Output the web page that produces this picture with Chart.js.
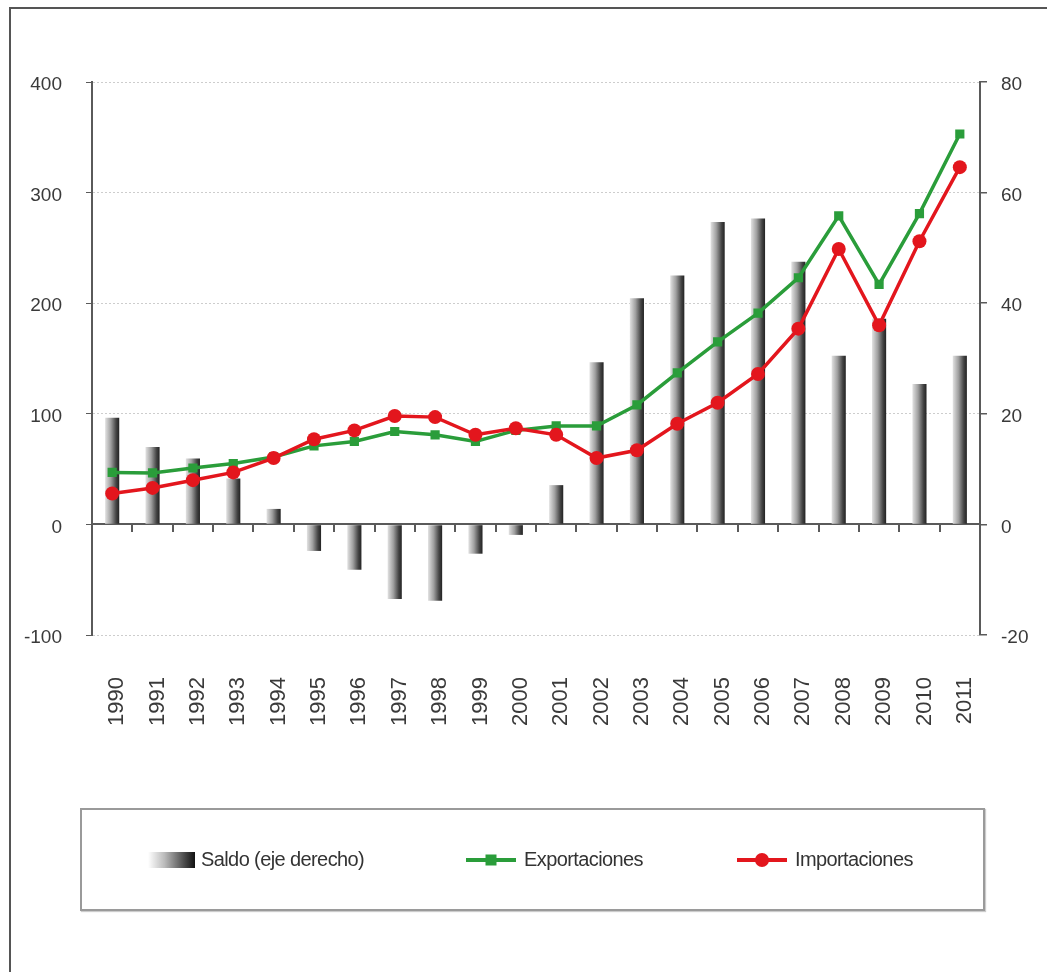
<!DOCTYPE html>
<html>
<head>
<meta charset="utf-8">
<script src="https://cdn.jsdelivr.net/npm/chart.js@4.4.1/dist/chart.umd.min.js"></script>
<style>
  html, body { margin: 0; padding: 0; background: #fff; }
  body { width: 1047px; height: 972px; position: relative; overflow: hidden; font-family: "Liberation Sans", Arial, sans-serif; }
  #frame { position: absolute; left: 9px; top: 7px; width: 1036px; height: 970px; border-left: 2px solid #555; border-top: 2px solid #555; border-right: 1px solid #ddd; }
  #wrap { position: absolute; left: 0; top: 0; width: 1047px; height: 972px; }
  #legend { position: absolute; left: 80px; top: 808px; width: 901px; height: 99px; border: 2px solid #9a9a9a; background: #fff; box-shadow: 1px 1px 1px #ccc; }
  .item { position: absolute; top: 0; height: 99px; display: flex; align-items: center; font-size: 20px; color: #333; letter-spacing: -0.6px; }
  .sw-bar { width: 47px; height: 16px; background: linear-gradient(to right, rgba(255,255,255,1) 0%, #bbb 35%, #444 80%, #111 100%); margin-right: 6px; }
  .sw-line { position: relative; width: 50px; height: 20px; margin-right: 8px; }
  .sw-line .ln { position: absolute; left: 0; right: 0; top: 8px; height: 4px; }
  .sw-line .mk { position: absolute; left: 50%; top: 50%; transform: translate(-50%, -50%); }
</style>
</head>
<body>
<div id="frame"></div>
<div id="wrap"><canvas id="c" width="1047" height="972"></canvas></div>
<div id="legend">
  <div class="item" style="left:66px;"><div class="sw-bar"></div><span>Saldo (eje derecho)</span></div>
  <div class="item" style="left:384px;"><div class="sw-line"><div class="ln" style="background:#2a9d3a"></div><div class="mk" style="width:11px;height:11px;background:#2a9d3a"></div></div><span>Exportaciones</span></div>
  <div class="item" style="left:655px;"><div class="sw-line"><div class="ln" style="background:#e3161d"></div><div class="mk" style="width:14px;height:14px;border-radius:50%;background:#e3161d"></div></div><span>Importaciones</span></div>
</div>
<script>
const years = ['1990','1991','1992','1993','1994','1995','1996','1997','1998','1999','2000','2001','2002','2003','2004','2005','2006','2007','2008','2009','2010','2011'];
const exportaciones = [47, 46.5, 51, 55, 61, 71, 75, 84, 81, 75, 85, 89, 89, 108, 137, 165, 191, 223, 279, 217, 281, 353];
const importaciones = [28, 33, 40, 47, 60, 77, 85, 98, 97, 81, 87, 81, 60, 67, 91, 110, 136, 177, 249, 180, 256, 323];
const saldo = [19.3, 14, 11.9, 8.3, 2.8, -4.8, -8.2, -13.5, -13.8, -5.3, -1.9, 7.1, 29.3, 40.9, 45, 54.7, 55.3, 47.5, 30.5, 37.2, 25.4, 30.5];
const leftTicks = [-100, 0, 100, 200, 300, 400];
const rightTicks = [-20, 0, 20, 40, 60, 80];

const GREEN = '#2a9d3a';
const RED = '#e3161d';
const AXIS = '#5a5a5a';
const TXT = '#3a3a3a';
const BAR_PCT = 0.35;

function barFill(c) {
  const chart = c.chart;
  const xs = chart.scales && chart.scales.x;
  if (!xs || !chart.chartArea || c.type !== 'data') return '#888';
  const cx = xs.getPixelForValue(c.dataIndex);
  const w = (xs.width / years.length) * BAR_PCT;
  const g = chart.ctx.createLinearGradient(cx - w / 2, 0, cx + w / 2, 0);
  g.addColorStop(0, '#e2e2e2');
  g.addColorStop(0.4, '#a0a0a0');
  g.addColorStop(0.78, '#444444');
  g.addColorStop(1, '#222222');
  return g;
}

new Chart(document.getElementById('c'), {
  data: {
    labels: years,
    datasets: [
      {
        type: 'line', label: 'Importaciones', data: importaciones, yAxisID: 'y', order: 1,
        borderColor: RED, backgroundColor: RED, borderWidth: 3.5,
        pointStyle: 'circle', pointRadius: 7, pointBorderWidth: 0, tension: 0
      },
      {
        type: 'line', label: 'Exportaciones', data: exportaciones, yAxisID: 'y', order: 2,
        borderColor: GREEN, backgroundColor: GREEN, borderWidth: 3.5,
        pointStyle: 'rect', pointRadius: 6.5, pointBorderWidth: 0, tension: 0
      },
      {
        type: 'bar', label: 'Saldo (eje derecho)', data: saldo, yAxisID: 'y2', order: 3,
        backgroundColor: barFill, borderWidth: 0,
        barPercentage: BAR_PCT, categoryPercentage: 1
      }
    ]
  },
  options: {
    responsive: false,
    animation: false,
    events: [],
    layout: { padding: { top: 82, left: 0, right: 0, bottom: 0 } },
    plugins: { legend: { display: false }, tooltip: { enabled: false } },
    scales: {
      x: {
        type: 'category', position: 'bottom', offset: true,
        afterFit: (s) => { s.height = 972 - 635; },
        grid: { display: false, drawTicks: false },
        border: { display: false },
        ticks: {
          minRotation: 90, maxRotation: 90, autoSkip: false, padding: 42, labelOffset: 5,
          color: TXT, font: { family: '"Liberation Sans", Arial, sans-serif', size: 22 }
        }
      },
      x0: {
        type: 'category', position: { y: 0 }, offset: true,
        grid: { drawOnChartArea: false, drawTicks: true, tickLength: 7, color: AXIS, lineWidth: 2, offset: true },
        border: { display: true, color: AXIS, width: 2 },
        ticks: { display: false }
      },
      y: {
        position: 'left', min: -100, max: 400,
        afterFit: (s) => { s.width = 92; },
        afterBuildTicks: (s) => { s.ticks = leftTicks.map(v => ({ value: v })); },
        grid: {
          color: (c) => c.tick && c.tick.value === 0 ? 'rgba(0,0,0,0)' : '#cdcdcd',
          tickColor: AXIS, tickLength: 6, lineWidth: 1
        },
        border: { display: true, color: AXIS, width: 2, dash: [2, 2] },
        ticks: { padding: 24, labelOffset: 3, color: TXT, font: { family: '"Liberation Sans", Arial, sans-serif', size: 19 } }
      },
      y2: {
        position: 'right', min: -20, max: 80,
        afterFit: (s) => { s.width = 1047 - 980; },
        afterBuildTicks: (s) => { s.ticks = rightTicks.map(v => ({ value: v })); },
        grid: { drawOnChartArea: false, tickColor: AXIS, tickLength: 7, lineWidth: 1.5 },
        border: { display: true, color: AXIS, width: 2 },
        ticks: { padding: 14, labelOffset: 3, color: TXT, font: { family: '"Liberation Sans", Arial, sans-serif', size: 19 } }
      }
    }
  }
});
</script>
</body>
</html>
